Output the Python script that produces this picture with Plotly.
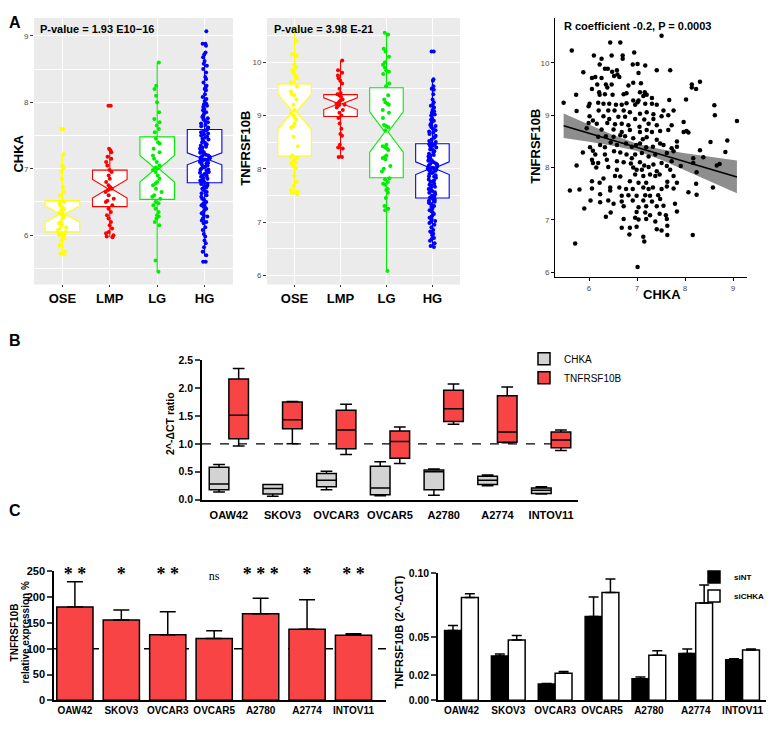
import plotly.graph_objects as go

# The page keeps its default 8px body margin, so the figure is sized to fit the
# 778x730 window and every position below is given in window pixels.
WIN_W, WIN_H, OFF = 778, 730, 8
W, H = WIN_W - 2 * OFF, WIN_H - 2 * OFF
def fx(px): return (px - OFF) / W
def fy(py): return 1 - (py - OFF) / H

FONT = "Liberation Sans, Arial, sans-serif"
SERIF = "Liberation Serif, Times New Roman, serif"

# ---------------- Panel A data ----------------
groups = ["OSE", "LMP", "LG", "HG"]
group_colors = ["#FFFF00", "#FF0000", "#00EE00", "#0000FF"]

# CHKA box statistics (left)
chka_q1 = [6.05, 6.43, 6.54, 6.79]
chka_med = [6.32, 6.70, 7.00, 7.15]
chka_q3 = [6.52, 6.98, 7.48, 7.59]
chka_lo = [5.71, 5.97, 5.45, 5.68]
chka_hi = [7.23, 7.30, 8.60, 8.75]
chka_notch = [0.12, 0.14, 0.20, 0.09]

chka_ose = [7.60, 7.60, 7.22, 7.05, 7.02, 6.95, 6.85, 6.72, 6.65, 6.60, 6.50, 6.48, 6.45,
            6.42, 6.40, 6.38, 6.35, 6.33, 6.32, 6.30, 6.28, 6.25, 6.20, 6.18, 6.15, 6.12,
            6.10, 6.08, 6.05, 6.03, 6.02, 6.01, 6.00, 6.00, 5.98, 5.95, 5.92, 5.85, 5.75,
            5.72, 5.71]
chka_lmp = [7.95, 7.95, 7.30, 7.28, 7.25, 7.18, 7.15, 7.10, 7.05, 6.98, 6.95, 6.90, 6.85,
            6.80, 6.75, 6.72, 6.70, 6.70, 6.68, 6.65, 6.60, 6.55, 6.52, 6.50, 6.45, 6.40,
            6.35, 6.30, 6.25, 6.20, 6.15, 6.10, 6.05, 6.03, 6.00, 5.98, 5.97]
chka_lg = [8.60, 8.25, 8.20, 8.10, 8.00, 7.85, 7.75, 7.70, 7.65, 7.60, 7.55, 7.45, 7.40,
           7.38, 7.30, 7.25, 7.20, 7.15, 7.10, 7.05, 7.02, 7.00, 6.98, 6.95, 6.90, 6.85,
           6.80, 6.78, 6.75, 6.70, 6.65, 6.60, 6.58, 6.55, 6.50, 6.48, 6.45, 6.40, 6.35,
           6.30, 6.28, 6.25, 6.20, 6.15, 5.62, 5.45]
chka_hg = [9.07, 8.88, 8.88, 8.85, 8.75, 8.72, 8.68, 8.62, 8.58, 8.55, 8.50, 8.45, 8.38,
           8.35, 8.30, 8.25, 8.22, 8.20, 8.18, 8.12, 8.08, 8.05, 8.02, 7.98, 7.97, 7.95,
           7.93, 7.90, 7.88, 7.85, 7.83, 7.80, 7.78, 7.76, 7.74, 7.72, 7.70, 7.68, 7.66,
           7.64, 7.62, 7.60, 7.58, 7.56, 7.55, 7.53, 7.52, 7.50, 7.48, 7.47, 7.45, 7.44,
           7.42, 7.40, 7.39, 7.37, 7.36, 7.35, 7.33, 7.32, 7.30, 7.29, 7.28, 7.26, 7.25,
           7.24, 7.22, 7.21, 7.20, 7.19, 7.18, 7.17, 7.16, 7.15, 7.15, 7.14, 7.13, 7.12,
           7.11, 7.10, 7.09, 7.08, 7.07, 7.05, 7.04, 7.03, 7.02, 7.00, 6.99, 6.98, 6.97,
           6.95, 6.94, 6.93, 6.92, 6.90, 6.89, 6.88, 6.86, 6.85, 6.84, 6.82, 6.81, 6.80,
           6.78, 6.77, 6.75, 6.74, 6.72, 6.70, 6.68, 6.66, 6.65, 6.63, 6.60, 6.58, 6.55,
           6.53, 6.50, 6.48, 6.46, 6.45, 6.43, 6.42, 6.40, 6.38, 6.35, 6.33, 6.30, 6.28,
           6.25, 6.22, 6.20, 6.18, 6.12, 6.08, 6.02, 5.98, 5.92, 5.88, 5.82, 5.75, 5.70,
           5.60, 5.60]
chka_points = [chka_ose, chka_lmp, chka_lg, chka_hg]

# TNFRSF10B box statistics (middle)
tnf_q1 = [8.24, 8.98, 7.83, 7.45]
tnf_med = [9.07, 9.22, 8.69, 8.01]
tnf_q3 = [9.59, 9.39, 9.52, 8.47]
tnf_lo = [7.52, 8.22, 6.08, 6.53]
tnf_hi = [10.63, 10.03, 10.55, 9.68]
tnf_notch = [0.33, 0.11, 0.38, 0.12]

tnf_ose = [10.63, 10.40, 10.15, 10.12, 9.95, 9.90, 9.85, 9.80, 9.75, 9.70, 9.62, 9.55,
           9.45, 9.40, 9.38, 9.30, 9.20, 9.10, 9.05, 9.00, 8.95, 8.92, 8.85, 8.80, 8.78,
           8.60, 8.42, 8.25, 8.22, 8.20, 8.15, 8.12, 8.10, 8.05, 8.02, 7.88, 7.75, 7.68,
           7.60, 7.57, 7.55, 7.52]
tnf_lmp = [10.03, 9.85, 9.80, 9.75, 9.70, 9.65, 9.60, 9.50, 9.42, 9.40, 9.38, 9.35, 9.30,
           9.28, 9.25, 9.22, 9.20, 9.20, 9.18, 9.15, 9.10, 9.05, 9.00, 8.95, 8.85, 8.75,
           8.65, 8.62, 8.45, 8.40, 8.38, 8.22, 8.22]
tnf_lg = [10.55, 10.52, 10.25, 10.20, 10.10, 10.00, 9.95, 9.90, 9.85, 9.82, 9.78, 9.60,
          9.55, 9.38, 9.30, 9.25, 9.22, 9.20, 9.10, 9.05, 8.95, 8.82, 8.80, 8.78, 8.72,
          8.45, 8.42, 8.40, 8.38, 8.35, 8.25, 8.22, 8.20, 8.18, 8.05, 8.00, 7.95, 7.82,
          7.80, 7.75, 7.72, 7.70, 7.62, 7.60, 7.55, 7.45, 7.30, 7.25, 7.22, 6.08]
tnf_hg = [10.20, 10.20, 9.68, 9.65, 9.55, 9.50, 9.48, 9.40, 9.30, 9.25, 9.20, 9.18, 9.15,
          9.10, 9.08, 9.05, 9.02, 9.00, 8.95, 8.92, 8.90, 8.88, 8.85, 8.82, 8.80, 8.78,
          8.75, 8.72, 8.70, 8.68, 8.65, 8.62, 8.60, 8.58, 8.55, 8.52, 8.50, 8.48, 8.46,
          8.45, 8.43, 8.42, 8.40, 8.38, 8.36, 8.35, 8.33, 8.30, 8.28, 8.26, 8.25, 8.23,
          8.22, 8.20, 8.18, 8.16, 8.15, 8.13, 8.12, 8.10, 8.09, 8.08, 8.06, 8.05, 8.04,
          8.03, 8.02, 8.01, 8.01, 8.00, 8.00, 7.99, 7.98, 7.97, 7.96, 7.95, 7.93, 7.92,
          7.90, 7.88, 7.86, 7.85, 7.83, 7.80, 7.78, 7.76, 7.75, 7.72, 7.70, 7.68, 7.66,
          7.65, 7.62, 7.60, 7.58, 7.56, 7.55, 7.52, 7.50, 7.48, 7.46, 7.45, 7.43, 7.42,
          7.40, 7.38, 7.36, 7.35, 7.32, 7.30, 7.28, 7.25, 7.22, 7.20, 7.18, 7.15, 7.12,
          7.10, 7.08, 7.05, 7.02, 7.00, 6.98, 6.95, 6.90, 6.85, 6.82, 6.80, 6.78, 6.75,
          6.70, 6.68, 6.65, 6.60, 6.55, 6.53]
tnf_points = [tnf_ose, tnf_lmp, tnf_lg, tnf_hg]

# Scatter CHKA vs TNFRSF10B (x, y)
scatter_pairs = [
    (5.64, 10.24), (6.44, 10.39), (6.65, 10.39), (6.94, 10.20), (6.10, 10.14), (6.26, 10.08),
    (6.47, 10.14), (6.70, 10.08), (6.70, 10.14), (6.91, 9.97), (7.01, 9.98), (7.17, 9.95),
    (7.03, 9.81), (6.22, 9.97), (6.33, 9.89), (6.39, 9.89), (6.48, 9.83), (6.58, 9.86),
    (6.59, 9.78), (6.52, 9.75), (6.63, 9.73), (5.88, 9.82), (6.06, 9.71), (6.13, 9.73),
    (6.26, 9.71), (7.41, 9.86), (7.69, 9.86), (7.51, 10.52), (6.17, 9.59), (6.35, 9.59),
    (6.38, 9.53), (6.47, 9.59), (6.82, 9.57), (6.92, 9.62), (7.08, 9.61), (8.14, 9.59),
    (8.14, 9.53), (8.31, 9.64), (8.23, 9.50), (6.06, 9.50), (6.21, 9.44), (6.33, 9.40),
    (6.49, 9.39), (6.22, 9.39), (5.73, 9.39), (6.72, 9.40), (6.78, 9.42), (7.06, 9.44),
    (7.16, 9.44), (7.13, 9.37), (7.20, 9.39), (7.31, 9.33), (7.67, 9.29), (6.92, 9.28),
    (7.03, 9.28), (8.02, 9.30), (5.47, 9.24), (6.01, 9.22), (5.99, 9.17), (6.19, 9.24),
    (6.42, 9.22), (6.30, 9.22), (6.56, 9.20), (6.68, 9.20), (6.78, 9.23), (6.96, 9.20),
    (7.01, 9.25), (7.17, 9.22), (7.31, 9.22), (7.41, 9.20), (7.76, 9.09), (8.61, 9.19),
    (5.74, 9.08), (6.20, 9.09), (6.40, 9.09), (6.53, 9.09), (6.72, 9.09), (6.85, 9.06),
    (7.06, 9.03), (7.20, 9.06), (7.34, 9.02), (7.55, 9.09), (8.62, 9.00), (6.01, 8.98),
    (6.08, 8.90), (6.30, 8.98), (6.42, 8.93), (6.61, 8.97), (6.75, 8.97), (6.96, 8.93),
    (7.15, 8.92), (7.34, 8.93), (7.51, 8.98), (7.65, 9.00), (9.08, 8.89), (5.99, 8.85),
    (6.16, 8.84), (6.38, 8.85), (6.54, 8.83), (6.68, 8.84), (6.82, 8.81), (7.05, 8.78),
    (7.24, 8.84), (7.41, 8.81), (7.72, 8.81), (7.97, 8.87), (5.95, 8.75), (6.26, 8.73),
    (6.51, 8.73), (6.68, 8.68), (6.85, 8.72), (7.06, 8.68), (7.20, 8.72), (7.31, 8.68),
    (7.48, 8.70), (7.65, 8.72), (7.97, 8.68), (8.03, 8.70), (8.07, 8.67), (8.88, 8.52),
    (8.53, 8.49), (6.19, 8.59), (6.35, 8.60), (6.51, 8.59), (6.65, 8.62), (6.75, 8.60),
    (6.92, 8.56), (7.12, 8.54), (7.20, 8.58), (7.41, 8.53), (7.48, 8.46), (7.83, 8.50),
    (5.87, 8.29), (6.02, 8.39), (6.08, 8.32), (6.23, 8.43), (6.33, 8.39), (6.45, 8.48),
    (6.58, 8.43), (6.77, 8.46), (6.89, 8.40), (6.98, 8.43), (7.06, 8.46), (7.19, 8.39),
    (7.33, 8.40), (7.55, 8.43), (7.72, 8.37), (7.83, 8.40), (8.31, 8.33), (8.84, 8.30),
    (6.13, 8.25), (6.33, 8.25), (6.52, 8.31), (6.65, 8.29), (6.78, 8.25), (6.89, 8.18),
    (6.96, 8.25), (7.10, 8.28), (7.24, 8.21), (7.38, 8.25), (7.62, 8.28), (7.76, 8.31),
    (8.17, 8.18), (8.38, 8.20), (8.17, 8.09), (6.06, 8.15), (6.19, 8.09), (6.08, 8.09),
    (6.37, 8.15), (6.58, 8.12), (6.72, 8.10), (6.87, 8.08), (7.06, 8.10), (7.15, 8.04),
    (7.34, 8.06), (7.51, 8.09), (7.62, 8.03), (7.72, 8.12), (7.91, 8.03), (5.74, 8.04),
    (8.66, 8.04), (8.72, 8.07), (6.92, 8.00), (6.99, 7.96), (7.10, 7.96), (7.24, 8.01),
    (7.41, 7.93), (7.69, 7.96), (6.58, 7.96), (6.40, 8.01), (6.15, 8.00), (8.24, 7.91),
    (6.96, 7.87), (7.13, 7.84), (7.27, 7.87), (7.38, 7.84), (7.47, 7.87), (7.76, 7.84),
    (6.54, 7.84), (6.65, 7.83), (6.30, 7.79), (6.06, 7.74), (6.22, 7.71), (6.85, 7.74),
    (7.03, 7.71), (7.19, 7.71), (7.63, 7.73), (7.83, 7.71), (8.23, 7.69), (6.06, 7.60),
    (5.60, 7.56), (5.80, 7.58), (6.44, 7.62), (6.63, 7.62), (6.77, 7.59), (6.91, 7.59),
    (7.13, 7.62), (7.24, 7.59), (7.33, 7.62), (7.51, 7.59), (7.62, 7.64), (7.76, 7.60),
    (8.58, 7.62), (8.07, 7.53), (8.24, 7.48), (6.23, 7.49), (6.44, 7.56), (6.68, 7.46),
    (6.82, 7.47), (6.99, 7.46), (7.17, 7.47), (7.27, 7.46), (7.44, 7.47), (6.03, 7.37),
    (6.23, 7.34), (6.40, 7.37), (6.68, 7.35), (6.91, 7.37), (7.13, 7.37), (7.31, 7.35),
    (7.48, 7.40), (7.79, 7.31), (5.90, 7.22), (6.51, 7.31), (6.72, 7.26), (7.03, 7.24),
    (7.19, 7.26), (7.41, 7.26), (7.55, 7.27), (7.83, 7.16), (6.45, 7.14), (6.35, 7.06),
    (6.99, 7.15), (7.17, 7.14), (7.27, 7.09), (7.47, 7.12), (7.60, 7.09), (6.72, 7.02),
    (6.96, 7.04), (7.03, 7.01), (7.19, 7.02), (7.38, 6.97), (7.62, 7.02), (6.68, 6.85),
    (6.85, 6.85), (6.99, 6.87), (7.41, 6.82), (7.51, 6.80), (7.63, 6.89), (6.84, 6.72),
    (7.13, 6.68), (7.15, 6.59), (7.63, 6.71), (8.16, 6.71), (5.71, 6.55), (7.01, 6.10),
]
scatter_chka = [p[0] for p in scatter_pairs]
scatter_tnf = [p[1] for p in scatter_pairs]

# linear fit and 95% band
fit_x = [5.47, 6.0, 6.5, 7.0, 7.5, 8.0, 8.5, 9.08]
fit_y = [8.80, 8.656, 8.521, 8.385, 8.250, 8.114, 7.979, 7.822]
fit_lo = [8.565, 8.494, 8.419, 8.315, 8.148, 7.952, 7.748, 7.509]
fit_hi = [9.035, 8.818, 8.623, 8.455, 8.352, 8.276, 8.210, 8.135]

# ---------------- Panel B data ----------------
cells = ["OAW42", "SKOV3", "OVCAR3", "OVCAR5", "A2780", "A2774", "INTOV11"]
b_chka_min = [0.14, 0.06, 0.18, 0.07, 0.08, 0.25, 0.10]
b_chka_q1 = [0.18, 0.10, 0.23, 0.09, 0.18, 0.27, 0.11]
b_chka_med = [0.28, 0.20, 0.35, 0.21, 0.50, 0.35, 0.17]
b_chka_q3 = [0.58, 0.27, 0.47, 0.60, 0.53, 0.42, 0.21]
b_chka_max = [0.63, 0.27, 0.51, 0.68, 0.55, 0.44, 0.23]

b_tnf_min = [0.96, 1.00, 0.81, 0.65, 1.35, 1.02, 0.88]
b_tnf_q1 = [1.09, 1.27, 0.91, 0.74, 1.40, 1.03, 0.93]
b_tnf_med = [1.51, 1.43, 1.25, 1.04, 1.63, 1.21, 1.07]
b_tnf_q3 = [2.16, 1.75, 1.60, 1.23, 1.96, 1.86, 1.21]
b_tnf_max = [2.35, 1.76, 1.71, 1.30, 2.07, 2.02, 1.25]

# ---------------- Panel C data ----------------
c_expr = [181, 156, 127, 120, 168, 138, 126]
c_expr_top = [230, 175, 172, 135, 198, 195, 129]
c_sig = ["**", "*", "**", "ns", "***", "*", "**"]
c_sint = [0.055, 0.035, 0.0128, 0.066, 0.017, 0.0369, 0.032]
c_sint_top = [0.059, 0.0365, 0.0133, 0.0815, 0.0184, 0.0404, 0.0328]
c_sichka = [0.081, 0.0475, 0.0213, 0.085, 0.0355, 0.0766, 0.0397]
c_sichka_top = [0.084, 0.051, 0.0227, 0.0957, 0.039, 0.0908, 0.0404]

def sig_label(s):
    if s == "ns":
        return '<span style="font-size:12px">ns</span>'
    return "<b>" + " ".join(s) + "</b>"

fig = go.Figure()

# ---- Panel A boxes ----
for ax, (xa, ya), q1, med, q3, lo, hi, nsp, pts in [
    (1, ("x", "y"), chka_q1, chka_med, chka_q3, chka_lo, chka_hi, chka_notch, chka_points),
    (2, ("x2", "y2"), tnf_q1, tnf_med, tnf_q3, tnf_lo, tnf_hi, tnf_notch, tnf_points),
]:
    for i, g in enumerate(groups):
        fig.add_trace(go.Box(
            x=[g], q1=[q1[i]], median=[med[i]], q3=[q3[i]],
            lowerfence=[lo[i]], upperfence=[hi[i]], notchspan=[nsp[i]],
            notched=True, notchwidth=0.45, whiskerwidth=0,
            fillcolor="white", line=dict(color=group_colors[i], width=1.1),
            boxpoints=False, xaxis=xa, yaxis=ya, showlegend=False,
            offsetgroup="A%d" % ax, alignmentgroup="A%d" % ax, hoverinfo="skip"))
        fig.add_trace(go.Box(
            x=[g] * len(pts[i]), y=pts[i], boxpoints="all", jitter=0.3, pointpos=0,
            fillcolor="rgba(0,0,0,0)", line=dict(width=0, color=group_colors[i]),
            marker=dict(color=group_colors[i], size=4),
            xaxis=xa, yaxis=ya, showlegend=False,
            offsetgroup="A%d" % ax, alignmentgroup="A%d" % ax, hoverinfo="skip"))

# ---- Panel A scatter ----
fig.add_trace(go.Scatter(
    x=fit_x + fit_x[::-1], y=fit_hi + fit_lo[::-1], fill="toself",
    fillcolor="#8E8E8E", line=dict(width=0), mode="lines",
    xaxis="x3", yaxis="y3", showlegend=False, hoverinfo="skip"))
fig.add_trace(go.Scatter(
    x=scatter_chka, y=scatter_tnf, mode="markers",
    marker=dict(color="black", size=4.5), xaxis="x3", yaxis="y3", showlegend=False))
fig.add_trace(go.Scatter(
    x=fit_x, y=fit_y, mode="lines", line=dict(color="black", width=1.6),
    xaxis="x3", yaxis="y3", showlegend=False))

# ---- Panel B ----
fig.add_trace(go.Box(
    x=cells, q1=b_chka_q1, median=b_chka_med, q3=b_chka_q3,
    lowerfence=b_chka_min, upperfence=b_chka_max, name="CHKA",
    fillcolor="#D3D3D3", line=dict(color="black", width=1.5), whiskerwidth=0.6,
    xaxis="x4", yaxis="y4", offsetgroup="B1", alignmentgroup="B", legend="legend"))
fig.add_trace(go.Box(
    x=cells, q1=b_tnf_q1, median=b_tnf_med, q3=b_tnf_q3,
    lowerfence=b_tnf_min, upperfence=b_tnf_max, name="TNFRSF10B",
    fillcolor="#F84444", line=dict(color="black", width=1.5), whiskerwidth=0.6,
    xaxis="x4", yaxis="y4", offsetgroup="B2", alignmentgroup="B", legend="legend"))

# ---- Panel C left ----
fig.add_trace(go.Bar(
    x=cells, y=c_expr, width=0.78,
    marker=dict(color="#F84444", line=dict(color="black", width=1.5)),
    error_y=dict(type="data", symmetric=False,
                 array=[t - v for t, v in zip(c_expr_top, c_expr)],
                 arrayminus=[0] * len(c_expr), color="black", thickness=1.5, width=8),
    xaxis="x5", yaxis="y5", showlegend=False))
fig.add_trace(go.Scatter(
    x=cells, y=[243] * len(cells), text=[sig_label(s) for s in c_sig], mode="text",
    textfont=dict(family=SERIF, size=18, color="black"),
    xaxis="x5", yaxis="y5", showlegend=False, cliponaxis=False))

# ---- Panel C right ----
fig.add_trace(go.Bar(
    x=cells, y=c_sint, name="siNT", width=0.36, offset=-0.36,
    marker=dict(color="black", line=dict(color="black", width=1.5)),
    error_y=dict(type="data", symmetric=False,
                 array=[t - v for t, v in zip(c_sint_top, c_sint)],
                 arrayminus=[0] * len(c_sint), color="black", thickness=1.5, width=5),
    xaxis="x6", yaxis="y6", legend="legend2"))
fig.add_trace(go.Bar(
    x=cells, y=c_sichka, name="siCHKA", width=0.36, offset=0,
    marker=dict(color="white", line=dict(color="black", width=1.5)),
    error_y=dict(type="data", symmetric=False,
                 array=[t - v for t, v in zip(c_sichka_top, c_sichka)],
                 arrayminus=[0] * len(c_sichka), color="black", thickness=1.5, width=5),
    xaxis="x6", yaxis="y6", legend="legend2"))

gg_tick = dict(size=8, color="#4D4D4D", family=FONT)
gg_cat = dict(size=13, color="black", family=FONT, weight="bold")
cat_font = dict(size=10, weight="bold", color="black")

C_BOT = 706  # window pixel row of the zero line in panel C

layout = dict(
    width=W, height=H, margin=dict(l=0, r=0, t=0, b=0),
    paper_bgcolor="white", plot_bgcolor="white",
    font=dict(family=FONT, color="black"),
    boxmode="group", boxgap=0.27, boxgroupgap=0, barmode="overlay",
    xaxis=dict(domain=[fx(34), fx(233)], anchor="y", type="category",
               categoryorder="array", categoryarray=groups, range=[-0.6, 3.6],
               showgrid=True, gridcolor="white", gridwidth=1.3, zeroline=False,
               ticks="outside", ticklen=2, tickcolor="#333333", tickfont=gg_cat),
    yaxis=dict(domain=[fy(283), fy(12)], anchor="x", range=[5.26, 9.27],
               tickvals=[6, 7, 8, 9], showgrid=True, gridcolor="white", gridwidth=1.3,
               minor=dict(dtick=0.5, tick0=0.5, showgrid=True, gridcolor="white", gridwidth=0.6),
               zeroline=False, ticks="outside", ticklen=3, tickcolor="#333333", tickfont=gg_tick),
    xaxis2=dict(domain=[fx(267), fx(460)], anchor="y2", type="category",
                categoryorder="array", categoryarray=groups, range=[-0.6, 3.6],
                showgrid=True, gridcolor="white", gridwidth=1.3, zeroline=False,
                ticks="outside", ticklen=2, tickcolor="#333333", tickfont=gg_cat),
    yaxis2=dict(domain=[fy(283), fy(12)], anchor="x2", range=[5.83, 10.83],
                tickvals=[6, 7, 8, 9, 10], showgrid=True, gridcolor="white", gridwidth=1.3,
                minor=dict(dtick=0.5, tick0=0.5, showgrid=True, gridcolor="white", gridwidth=0.6),
                zeroline=False, ticks="outside", ticklen=3, tickcolor="#333333", tickfont=gg_tick),
    xaxis3=dict(domain=[fx(555), fx(747)], anchor="y3", range=[5.29, 9.29],
                tickvals=[6, 7, 8, 9], showgrid=False, zeroline=False, showline=True,
                linecolor="black", linewidth=1, ticks="outside", ticklen=3,
                tickcolor="black", tickfont=gg_tick),
    yaxis3=dict(domain=[fy(276), fy(12)], anchor="x3", range=[5.9, 10.86],
                tickvals=[6, 7, 8, 9, 10], showgrid=False, zeroline=False, showline=True,
                linecolor="black", linewidth=1, ticks="outside", ticklen=3,
                tickcolor="black", tickfont=gg_tick),
    xaxis4=dict(domain=[fx(202), fx(578)], anchor="y4", type="category",
                categoryorder="array", categoryarray=cells, range=[-0.5, 6.5],
                showgrid=False, zeroline=False, showline=True, linecolor="black",
                linewidth=1.5, ticks="", tickangle=0, ticklabelstandoff=4,
                tickfont=dict(size=11, weight="bold")),
    yaxis4=dict(domain=[fy(502), fy(360)], anchor="x4", range=[0, 2.5], dtick=0.5,
                tickformat=".1f", showgrid=False, zeroline=False, showline=True,
                linecolor="black", linewidth=1.5, ticks="outside", ticklen=5,
                tickwidth=1.5, tickfont=dict(size=10.5, weight="bold")),
    xaxis5=dict(domain=[fx(54), fx(386)], anchor="y5", type="category",
                categoryorder="array", categoryarray=cells, range=[-0.45, 6.7],
                showgrid=False, zeroline=False, showline=True, linecolor="black",
                linewidth=1.5, ticks="", tickangle=0, tickfont=cat_font),
    yaxis5=dict(domain=[fy(C_BOT), fy(575)], anchor="x5", range=[0, 250], dtick=50,
                showgrid=False, zeroline=False, showline=True, linecolor="black",
                linewidth=1.5, ticks="outside", ticklen=5, tickwidth=1.5,
                tickfont=dict(size=11, weight="bold")),
    xaxis6=dict(domain=[fx(438), fx(766)], anchor="y6", type="category",
                categoryorder="array", categoryarray=cells, range=[-0.5, 6.5],
                showgrid=False, zeroline=False, showline=True, linecolor="black",
                linewidth=1.5, ticks="", tickangle=0, tickfont=cat_font),
    yaxis6=dict(domain=[fy(C_BOT), fy(577)], anchor="x6", range=[0, 0.1],
                tickvals=[0, 0.02, 0.05, 0.10], ticktext=["0.00", "0.02", "0.05", "0.10"],
                showgrid=False, zeroline=False, showline=True, linecolor="black",
                linewidth=1.5, ticks="outside", ticklen=5, tickwidth=1.5,
                tickfont=dict(size=10.5, weight="bold")),
    legend=dict(x=fx(524), y=fy(344), xanchor="left", yanchor="top",
                font=dict(size=10), bgcolor="rgba(0,0,0,0)", tracegroupgap=0),
    legend2=dict(x=1.0, y=fy(566), xanchor="right", yanchor="top",
                 font=dict(size=8, weight="bold"), bgcolor="rgba(0,0,0,0)", tracegroupgap=0),
)
fig.update_layout(**layout)

shapes = [
    dict(type="rect", xref="x domain", yref="y domain", x0=0, x1=1, y0=0, y1=1,
         fillcolor="#EBEBEB", line=dict(width=0), layer="below"),
    dict(type="rect", xref="x2 domain", yref="y2 domain", x0=0, x1=1, y0=0, y1=1,
         fillcolor="#EBEBEB", line=dict(width=0), layer="below"),
    dict(type="line", xref="x4 domain", yref="y4", x0=0, x1=1, y0=1, y1=1,
         line=dict(color="black", width=1.3, dash="dash"), layer="below"),
    dict(type="line", xref="x5 domain", yref="y5", x0=0, x1=1, y0=100, y1=100,
         line=dict(color="black", width=1.3, dash="dash"), layer="below"),
]
fig.update_layout(shapes=shapes)

def ann(text, x, y, size, angle=0, xanchor="center", bold=True, color="black", family=FONT):
    return dict(text=("<b>%s</b>" % text) if bold else text, x=fx(x), y=fy(y),
                xref="paper", yref="paper", showarrow=False, textangle=angle,
                xanchor=xanchor, yanchor="middle", font=dict(size=size, color=color, family=family))

annotations = [
    ann("A", 15, 17, 16), ann("B", 15, 340, 16), ann("C", 15, 513, 16),
    ann("P-value = 1.93 E10\u221216", 38, 23, 11, xanchor="left"),
    ann("P-value = 3.98 E-21", 272, 23, 11, xanchor="left"),
    ann("R coefficient -0.2, P = 0.0003", 562, 20, 11, xanchor="left"),
    ann("CHKA", 19, 150, 13, angle=-90),
    ann("TNFRSF10B", 246, 145, 13, angle=-90),
    ann("TNFRSF10B", 536, 143, 13, angle=-90),
    ann("CHKA", 662, 293, 13),
    ann("2^-\u0394CT ratio", 170, 425, 10.5, angle=-90),
    ann("TNFRSF10B", 14, 637, 10, angle=-90),
    ann("relative expression %", 25, 637, 10, angle=-90),
    ann("TNFRSF10B (2^-\u0394CT)", 399, 637, 11, angle=-90),
]
fig.update_layout(annotations=annotations)

fig.write_html("out.html")
